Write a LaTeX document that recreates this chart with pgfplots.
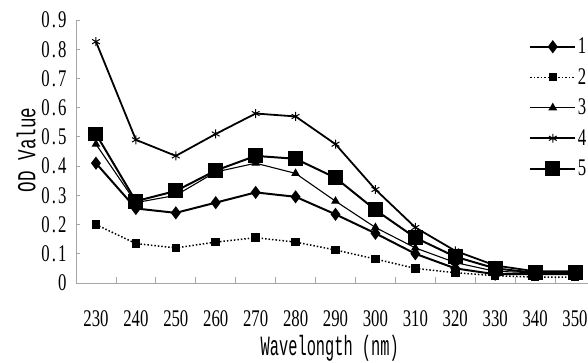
\documentclass[border=0pt]{standalone}
\usepackage{fontspec}
\usepackage{pgfplots}
\pgfplotsset{compat=1.18}
\setmainfont{Liberation Serif}
\newfontfamily\tickfont[FakeStretch=0.7]{Liberation Serif}
\newfontfamily\labfont[FakeStretch=0.55]{Liberation Mono}
\newfontfamily\ylabfont[FakeStretch=0.68]{Liberation Mono}
\newcommand\dd{\makebox[0.35em]{.}}
\begin{document}
\begin{tikzpicture}
\path[use as bounding box] (-76bp,-80bp) rectangle (512bp,283bp);
\clip (-76bp,-80bp) rectangle (512bp,283bp);
\begin{axis}[
  at={(0,0)}, anchor=south west,
  scale only axis, width=519bp, height=263bp,
  xmin=225, xmax=355, ymin=0, ymax=0.9,
  /pgf/number format/assume math mode=true,
  axis lines=left, axis line style={-, gray!70, line width=0.8pt},
  tick align=inside,
  xtick={230,240,...,350}, major x tick style={draw=none},
  minor xtick={235,245,...,355}, minor tick length=6bp,
  minor x tick style={gray!70, line width=0.8pt},
  ytick={0,0.1,...,0.9}, major tick length=4bp,
  major y tick style={gray!70, line width=0.8pt},
  yticklabels={0,0\dd1,0\dd2,0\dd3,0\dd4,0\dd5,0\dd6,0\dd7,0\dd8,0\dd9},
  xticklabel style={font=\fontsize{24}{24}\tickfont, yshift=-24bp},
  yticklabel style={font=\fontsize{24}{24}\tickfont, xshift=-6bp},
  xlabel={Wavelongth (nm)}, ylabel={OD Value},
  xlabel style={font=\fontsize{28}{28}\labfont, at={(axis description cs:0.489,-0.25)}, anchor=center},
  ylabel style={font=\fontsize{26}{26}\ylabfont, at={(axis description cs:-0.0963,0.506)}, anchor=center},
  legend style={at={(axis description cs:0.873,0.939)}, anchor=north west, draw=none, fill=none,
    font=\fontsize{24}{24}\tickfont, inner sep=0pt, row sep=9.5bp,
    nodes={inner sep=1.5bp, text height=16bp, text depth=2bp}},
  legend cell align=left,
  legend image code/.code={\draw[mark repeat=2,mark phase=2] plot coordinates {(0bp,0bp) (22.5bp,0bp) (45bp,0bp)};},
  clip=false,
]
\addplot[black, line width=2pt, mark=diamond*, mark size=5pt, mark options={solid}] coordinates {
(230,0.41)(240,0.255)(250,0.24)(260,0.275)(270,0.31)(280,0.295)(290,0.235)(300,0.17)(310,0.10)(320,0.05)(330,0.03)(340,0.03)(350,0.03)};
\addlegendentry{1}
\addplot[black, line width=1.5pt, dotted, mark=square*, mark size=3.5pt, mark options={solid}] coordinates {
(230,0.20)(240,0.135)(250,0.12)(260,0.14)(270,0.155)(280,0.14)(290,0.113)(300,0.082)(310,0.05)(320,0.035)(330,0.025)(340,0.02)(350,0.02)};
\addlegendentry{2}
\addplot[black, line width=1.1pt, mark=triangle*, mark size=4pt, mark options={solid}] coordinates {
(230,0.475)(240,0.275)(250,0.30)(260,0.38)(270,0.41)(280,0.375)(290,0.28)(300,0.19)(310,0.12)(320,0.07)(330,0.04)(340,0.035)(350,0.03)};
\addlegendentry{3}
\addplot[black, line width=1.8pt, mark=asterisk, mark size=4.5pt, mark options={solid, line width=1pt}] coordinates {
(230,0.826)(240,0.49)(250,0.435)(260,0.51)(270,0.58)(280,0.57)(290,0.475)(300,0.32)(310,0.19)(320,0.11)(330,0.06)(340,0.04)(350,0.04)};
\addlegendentry{4}
\addplot[black, line width=2pt, mark=square*, mark size=6.5pt, mark options={solid}] coordinates {
(230,0.51)(240,0.28)(250,0.315)(260,0.385)(270,0.435)(280,0.425)(290,0.36)(300,0.25)(310,0.155)(320,0.09)(330,0.05)(340,0.035)(350,0.035)};
\addlegendentry{5}
\end{axis}
\end{tikzpicture}
\end{document}
